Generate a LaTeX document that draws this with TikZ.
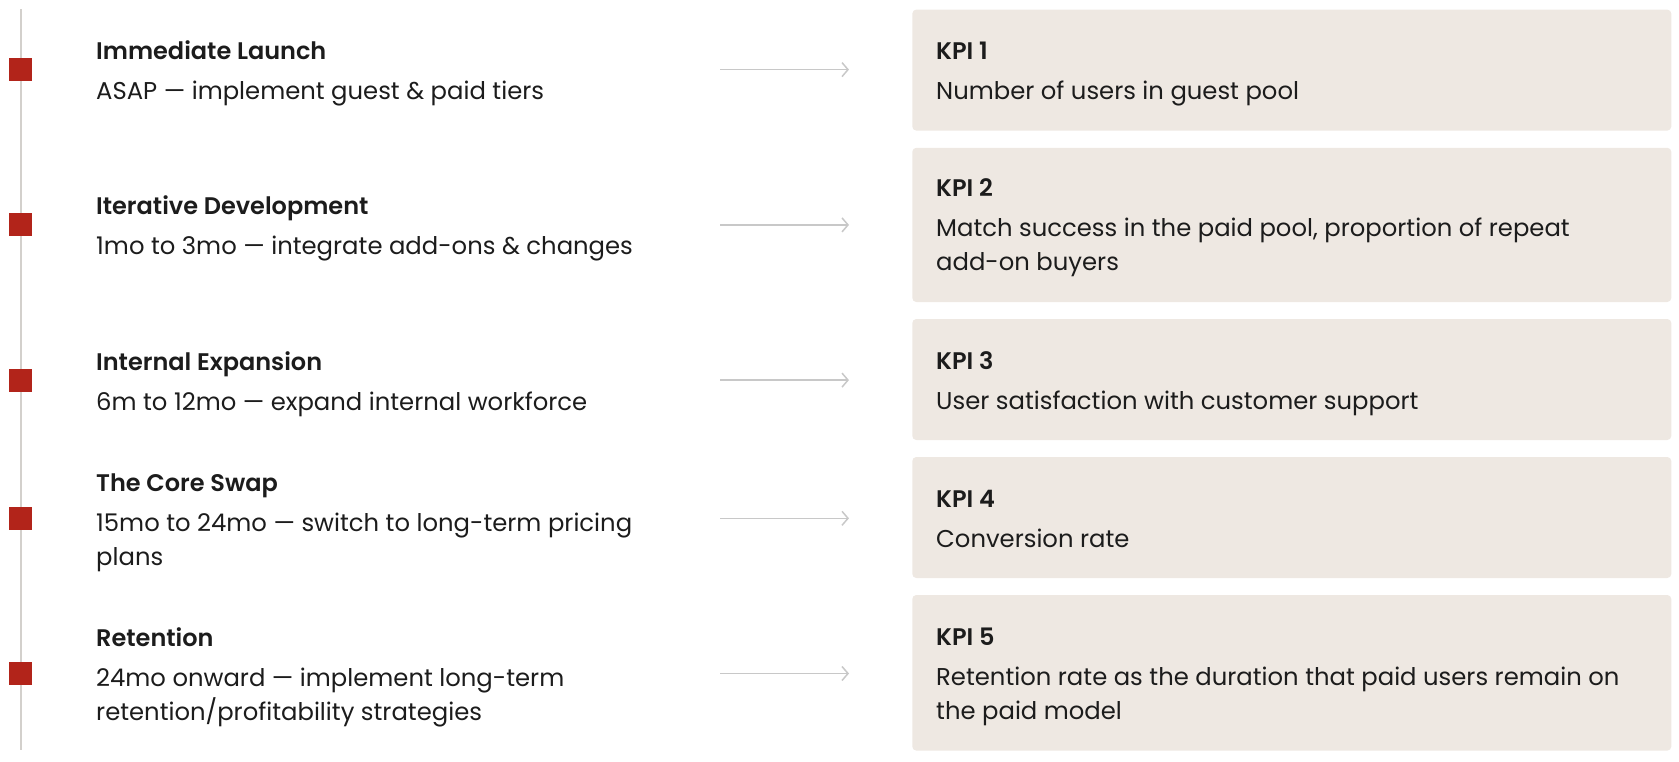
\documentclass[tikz,border=0pt]{standalone}
\usepackage{fontspec}
\setmainfont{Poppins}[BoldFont={Poppins SemiBold}]
\usetikzlibrary{arrows.meta}
\definecolor{mred}{HTML}{B2241A}
\definecolor{mbox}{HTML}{EEE8E2}
\definecolor{mline}{HTML}{D3D0CC}
\definecolor{marrow}{HTML}{C8C8C8}
\definecolor{mtext}{HTML}{1C1C1C}
\tikzset{
  marker/.style={fill=mred, draw=none, minimum size=23pt, inner sep=0pt, rectangle},
  kpibox/.style={fill=mbox, draw=none, rounded corners=4pt, minimum width=759pt, inner sep=0pt, rectangle},
  ttl/.style={anchor=base west, inner sep=0pt, text=mtext, font=\fontsize{24}{28}\selectfont\bfseries},
  sub/.style={anchor=base west, inner sep=0pt, text=mtext, font=\fontsize{24.3}{34}\selectfont},
  conn/.style={draw=marrow, line width=1.5pt, -{Straight Barb[length=6pt,width=14pt]}},
}
\begin{document}
\begin{tikzpicture}[x=1pt,y=-1pt]
\useasboundingbox (0,0) rectangle (1679,761);
% timeline
\coordinate (ltop) at (20.5,9);
\coordinate (lbot) at (20.5,750);
\draw[mline, line width=2pt] (ltop) -- (lbot);
% markers
\node[marker] (s1) at (20.5,69.6) {};
\node[marker] (s2) at (20.5,224.9) {};
\node[marker] (s3) at (20.5,380.1) {};
\node[marker] (s4) at (20.5,518.3) {};
\node[marker] (s5) at (20.5,673.5) {};
% left texts
\node[ttl] (t1) at (96,59.5) {Immediate Launch};
\node[sub] (d1) at (96,99.5) {ASAP — implement guest \& paid tiers};
\node[ttl] (t2) at (96,214.8) {Iterative Development};
\node[sub] (d2) at (96,254.8) {1mo to 3mo — integrate add-ons \& changes};
\node[ttl] (t3) at (96,370.1) {Internal Expansion};
\node[sub] (d3) at (96,410.1) {6m to 12mo — expand internal workforce};
\node[ttl] (t4) at (96,491.1) {The Core Swap};
\node[sub] (d4) at (96,531.1) {15mo to 24mo — switch to long-term pricing};
\node[sub] (d4b) at (96,565.4) {plans};
\node[ttl] (t5) at (96,646.3) {Retention};
\node[sub] (d5) at (96,686.3) {24mo onward — implement long-term};
\node[sub] (d5b) at (96,720.6) {retention/profitability strategies};
% boxes
\node[kpibox, minimum height=121pt] (k1) at (1291.8,70.1) {};
\node[kpibox, minimum height=154.2pt] (k2) at (1291.8,224.9) {};
\node[kpibox, minimum height=121pt] (k3) at (1291.8,379.5) {};
\node[kpibox, minimum height=121pt] (k4) at (1291.8,517.5) {};
\node[kpibox, minimum height=155.6pt] (k5) at (1291.8,672.8) {};
% kpi texts
\node[ttl] (p1) at (936,59.5) {KPI 1};
\node[sub] (q1) at (936,99.5) {Number of users in guest pool};
\node[ttl] (p2) at (936,196.5) {KPI 2};
\node[sub] (q2) at (936,236.5) {Match success in the paid pool, proportion of repeat};
\node[sub] (q2b) at (936,270.8) {add-on buyers};
\node[ttl] (p3) at (936,369) {KPI 3};
\node[sub] (q3) at (936,409) {User satisfaction with customer support};
\node[ttl] (p4) at (936,507.1) {KPI 4};
\node[sub] (q4) at (936,547.1) {Conversion rate};
\node[ttl] (p5) at (936,645.2) {KPI 5};
\node[sub] (q5) at (936,685.2) {Retention rate as the duration that paid users remain on};
\node[sub] (q5b) at (936,719.5) {the paid model};
% arrows
\foreach \i/\y in {1/69.6,2/224.9,3/380.1,4/518.3,5/673.5}{
  \coordinate (a\i) at (720,\y);
  \coordinate (b\i) at (849,\y);
  \draw[conn] (a\i) -- (b\i);
}
\end{tikzpicture}
\end{document}
